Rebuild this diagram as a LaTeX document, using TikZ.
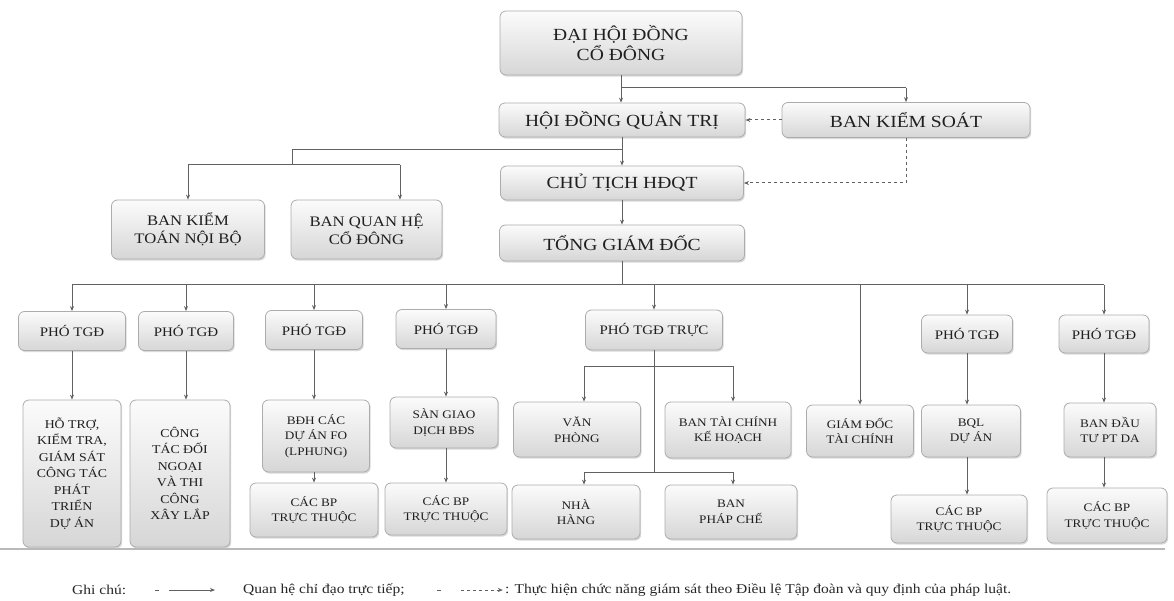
\documentclass[tikz,border=0pt]{standalone}
\usepackage{fontspec}
\setmainfont{Liberation Serif}[FakeStretch=1.15]
\usetikzlibrary{arrows.meta,shadows,calc}
\newcommand\ftop{\fontsize{17}{20}\selectfont}
\newcommand\fsec{\fontsize{14.5}{18}\selectfont}
\newcommand\fpho{\fontsize{13}{15}\selectfont}
\newcommand\fsub{\fontsize{11.5}{15.5}\selectfont}
\newcommand\ftall{\fontsize{12}{16.5}\selectfont}
\newcommand\fleg{\fontsize{13.5}{15}\selectfont}
\begin{document}
\begin{tikzpicture}[x=1pt,y=-1pt,
  box/.style={draw=gray!65, line width=0.8pt, rounded corners=6pt,
    top color=gray!3, bottom color=gray!32,
    drop shadow={shadow xshift=1.2pt, shadow yshift=-1.6pt, opacity=0.3, fill=gray},
    inner sep=0pt, align=center, text=black!88},
  conn/.style={draw=black!62, line width=1pt},
  arr/.style={conn, -{Stealth[length=5pt,width=4pt]}},
  dashconn/.style={conn, dash pattern=on 3pt off 3pt, -{Stealth[length=5pt,width=4pt]}},
  legend/.style={inner sep=0pt, font=\fleg, text=black!85}]
\useasboundingbox (0,0) rectangle (1174,601);

% top levels
\node[box, font=\ftop, minimum width=242pt, minimum height=64pt] (dhd) at (621,43) {ĐẠI HỘI ĐỒNG\\CỔ ĐÔNG};
\node[box, font=\ftop, minimum width=246pt, minimum height=34pt] (hdqt) at (622,120) {HỘI ĐỒNG QUẢN TRỊ};
\node[box, font=\ftop, minimum width=248pt, minimum height=35pt] (bks) at (906,120) {BAN KIỂM SOÁT};
\node[box, font=\ftop, minimum width=243pt, minimum height=34pt] (ct) at (622,183) {CHỦ TỊCH HĐQT};
\node[box, font=\ftop, minimum width=245pt, minimum height=36pt] (tgd) at (622,243) {TỔNG GIÁM ĐỐC};
\node[box, font=\fsec, minimum width=153pt, minimum height=59pt] (bktnb) at (188,229.5) {BAN KIỂM\\TOÁN NỘI BỘ};
\node[box, font=\fsec, minimum width=151pt, minimum height=59pt] (bqh) at (366.5,229.5) {BAN QUAN HỆ\\CỔ ĐÔNG};

% pho TGD row
\node[box, font=\fpho, minimum width=107pt, minimum height=39pt] (p1) at (72,331) {PHÓ TGĐ};
\node[box, font=\fpho, minimum width=95pt, minimum height=39pt] (p2) at (186,331) {PHÓ TGĐ};
\node[box, font=\fpho, minimum width=97pt, minimum height=39pt] (p3) at (314,330) {PHÓ TGĐ};
\node[box, font=\fpho, minimum width=100pt, minimum height=39pt] (p4) at (446,329) {PHÓ TGĐ};
\node[box, font=\fpho, minimum width=137pt, minimum height=40pt] (ptr) at (654,330) {PHÓ TGĐ TRỰC};
\node[box, font=\fpho, minimum width=91pt, minimum height=38pt] (p6) at (967,334) {PHÓ TGĐ};
\node[box, font=\fpho, minimum width=90pt, minimum height=38pt] (p7) at (1104,334) {PHÓ TGĐ};

% third row
\node[box, font=\ftall, minimum width=98pt, minimum height=147pt] (ht) at (72,473.5) {HỖ TRỢ,\\KIỂM TRA,\\GIÁM SÁT\\CÔNG TÁC\\PHÁT\\TRIỂN\\DỰ ÁN};
\node[box, font=\ftall, minimum width=100pt, minimum height=147pt] (ctdn) at (180,473.5) {CÔNG\\TÁC ĐỐI\\NGOẠI\\VÀ THI\\CÔNG\\XÂY LẮP};
\node[box, font=\fsub, minimum width=107pt, minimum height=72pt] (bdh) at (316,436) {BĐH CÁC\\DỰ ÁN FO\\(LPHUNG)};
\node[box, font=\fsub, minimum width=128pt, minimum height=54pt] (bp3) at (314,510) {CÁC BP\\TRỰC THUỘC};
\node[box, font=\fsub, minimum width=108pt, minimum height=51pt] (san) at (444,422.5) {SÀN GIAO\\DỊCH BĐS};
\node[box, font=\fsub, minimum width=122pt, minimum height=52pt] (bp4) at (446,509) {CÁC BP\\TRỰC THUỘC};
\node[box, font=\fsub, minimum width=127pt, minimum height=55pt] (vp) at (577,429.5) {VĂN\\PHÒNG};
\node[box, font=\fsub, minimum width=126pt, minimum height=56pt] (tckh) at (728,430) {BAN TÀI CHÍNH\\KẾ HOẠCH};
\node[box, font=\fsub, minimum width=128pt, minimum height=54pt] (nh) at (576,512) {NHÀ\\HÀNG};
\node[box, font=\fsub, minimum width=132pt, minimum height=54pt] (bpc) at (731,512) {BAN\\PHÁP CHẾ};
\node[box, font=\fsub, minimum width=107pt, minimum height=52pt] (gdtc) at (860,431) {GIÁM ĐỐC\\TÀI CHÍNH};
\node[box, font=\fsub, minimum width=99pt, minimum height=52pt] (bql) at (971,431) {BQL\\DỰ ÁN};
\node[box, font=\fsub, minimum width=136pt, minimum height=48pt] (bp6) at (959,519) {CÁC BP\\TRỰC THUỘC};
\node[box, font=\fsub, minimum width=92pt, minimum height=54pt] (bdt) at (1110,430) {BAN ĐẦU\\TƯ PT DA};
\node[box, font=\fsub, minimum width=120pt, minimum height=55pt] (bp7) at (1107,515.5) {CÁC BP\\TRỰC THUỘC};

% connectors top
\coordinate (j1) at (621,88);
\coordinate (j1r) at (906,88);
\draw[arr] (dhd.south) -- (dhd.south |- hdqt.north);
\draw[conn] (j1) -- (j1r);
\draw[arr] (j1r) -- (bks.north);
\draw[dashconn] (bks.west) -- (hdqt.east);
\coordinate (d1) at (906,183);
\draw[dashconn] (bks.south) -- (d1) -- (ct.east);
\draw[arr] (hdqt.south) -- (ct.north);
\coordinate (h1) at (622,150);
\coordinate (h2) at (292,150);
\coordinate (h3) at (292,165);
\coordinate (h4) at (188,165);
\coordinate (h5) at (400,165);
\draw[conn] (h1) -- (h2) -- (h3);
\draw[conn] (h4) -- (h5);
\draw[arr] (h4) -- (bktnb.north);
\draw[arr] (h5) -- (h5 |- bqh.north);
\draw[arr] (ct.south) -- (tgd.north);

% TGD bus
\coordinate (t1) at (622,285);
\coordinate (tL) at (72,285);
\coordinate (tR) at (1104,285);
\draw[conn] (tgd.south) -- (t1);
\draw[conn] (tL) -- (tR);
\foreach \n in {p1,p2,p3,p4,ptr,p6,p7,gdtc}{
  \draw[arr] (\n.north |- t1) -- (\n.north);
}

% third row links
\draw[arr] (p1.south) -- (p1.south |- ht.north);
\draw[arr] (p2.south) -- (p2.south |- ctdn.north);
\draw[arr] (p3.south) -- (p3.south |- bdh.north);
\draw[arr] (p3.south |- bdh.south) -- (p3.south |- bp3.north);
\draw[arr] (p4.south) -- (p4.south |- san.north);
\draw[arr] (p4.south |- san.south) -- (p4.south |- bp4.north);
\draw[arr] (p6.south) -- (p6.south |- bql.north);
\draw[arr] (p6.south |- bql.south) -- (p6.south |- bp6.north);
\draw[arr] (p7.south) -- (p7.south |- bdt.north);
\draw[arr] (p7.south |- bdt.south) -- (p7.south |- bp7.north);

% Pho TGD truc branches
\coordinate (rL1) at (584,366);
\coordinate (rR1) at (733,366);
\coordinate (r2) at (654,472);
\coordinate (rL2) at (584,472);
\coordinate (rR2) at (733,472);
\draw[conn] (ptr.south) -- (r2);
\draw[conn] (rL1) -- (rR1);
\draw[arr] (rL1) -- (rL1 |- vp.north);
\draw[arr] (rR1) -- (rR1 |- tckh.north);
\draw[conn] (rL2) -- (rR2);
\draw[arr] (rL2) -- (rL2 |- nh.north);
\draw[arr] (rR2) -- (rR2 |- bpc.north);

% bottom rule
\coordinate (bl1) at (0,549);
\coordinate (bl2) at (1165,549);
\draw[gray!55, line width=2pt] (bl1) -- (bl2);

% legend
\node[legend, anchor=west] (lg0) at (72,590) {Ghi chú:};
\coordinate (ld1a) at (155,590);
\coordinate (ld1b) at (159,590);
\draw[conn] (ld1a) -- (ld1b);
\coordinate (la1) at (169,590);
\coordinate (la2) at (215,590);
\draw[arr] (la1) -- (la2);
\node[legend, anchor=west] (lg1) at (243,590) {Quan hệ chỉ đạo trực tiếp;};
\coordinate (ld2a) at ($(lg1.east)+(32,0)$);
\coordinate (ld2b) at ($(lg1.east)+(36,0)$);
\draw[conn] (ld2a) -- (ld2b);
\coordinate (la3) at ($(lg1.east)+(56,0)$);
\coordinate (la4) at ($(lg1.east)+(98,0)$);
\draw[dashconn] (la3) -- (la4);
\node[legend, anchor=west] (lg2) at ($(la4)+(2,0)$) {: Thực hiện chức năng giám sát theo Điều lệ Tập đoàn và quy định của pháp luật.};
\end{tikzpicture}
\end{document}
